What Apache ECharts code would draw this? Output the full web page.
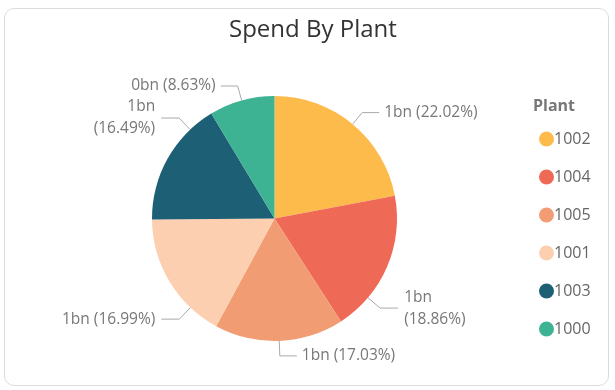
<!DOCTYPE html>
<html>
<head>
<meta charset="utf-8">
<script src="https://cdn.jsdelivr.net/npm/echarts@6/dist/echarts.min.js"></script>
<style>
html,body{margin:0;padding:0;background:#fff;}
#card{position:absolute;left:4px;top:8px;width:605px;height:378px;border:1px solid #dcdcdc;border-radius:10px;box-sizing:border-box;}
#chart{position:absolute;left:0;top:0;width:615px;height:390px;}
</style>
</head>
<body>
<div id="card"></div>
<div id="chart"></div>
<script>
var plants = ['1002', '1004', '1005', '1001', '1003', '1000'];
var spendBn = [1.101, 0.943, 0.8515, 0.8495, 0.8245, 0.4315];
var percents = ['22.02', '18.86', '17.03', '16.99', '16.49', '8.63'];
var colors = ['#FDBB4B', '#EF6957', '#F29C73', '#FDCFB1', '#1D5F74', '#3EB393'];

var FONT = '"Open Sans", "Noto Sans", sans-serif';
var chart = echarts.init(document.getElementById('chart'), null, {renderer: 'canvas'});

var data = plants.map(function (p, i) {
  return {name: p, value: spendBn[i], itemStyle: {color: colors[i]}};
});

// layout-only: pie geometry and custom leader-line angles for a few labels
var PIE_C = [274.5, 218.5], PIE_R = 122.5, LEN1 = 16, LEN2 = 18, GAP = 6;
var leaderAngle = {'1004': 130.3, '1001': 223.4, '1003': 316.5};

chart.setOption({
  animation: false,
  title: [
    {text: 'Spend By Plant', left: 224, top: 13,
     textStyle: {fontFamily: FONT, fontSize: 24, fontWeight: 'normal', color: '#333'}},
    {text: 'Plant', left: 528, top: 93,
     textStyle: {fontFamily: FONT, fontSize: 16, fontWeight: 'bold', color: '#777'}}
  ],
  legend: {
    orient: 'vertical', left: 534, top: 126,
    icon: 'circle', itemWidth: 15, itemHeight: 15, itemGap: 22,
    textStyle: {fontFamily: FONT, fontSize: 16, color: '#666', padding: [0, 0, 0, -5]},
    data: plants
  },
  series: [{
    type: 'pie',
    center: PIE_C,
    radius: PIE_R,
    startAngle: 90,
    clockwise: true,
    data: data,
    itemStyle: {borderColor: '#fff', borderWidth: 0},
    label: {
      show: true,
      fontFamily: FONT, fontSize: 15.5, color: '#777', lineHeight: 22,
      formatter: function (p) {
        var i = p.dataIndex;
        var v = Math.round(spendBn[i]) + 'bn';
        var pc = '(' + percents[i] + '%)';
        if (plants[i] === '1004' || plants[i] === '1003') return v + '\n' + pc;
        return v + ' ' + pc;
      }
    },
    labelLine: {show: true, length: 15, length2: 17, lineStyle: {color: '#aaa', width: 1}},
    labelLayout: function (params) {
      var name = plants[params.dataIndex];
      var a = leaderAngle[name];
      if (a == null) return {};
      var rad = a * Math.PI / 180, s = Math.sin(rad), c = -Math.cos(rad);
      var p0 = [PIE_C[0] + PIE_R * s, PIE_C[1] + PIE_R * c];
      var p1 = [PIE_C[0] + (PIE_R + LEN1) * s, PIE_C[1] + (PIE_R + LEN1) * c];
      var side = s > 0 ? 1 : -1;
      var p2 = [p1[0] + side * LEN2, p1[1]];
      return {x: p2[0] + side * GAP, y: p2[1], align: side > 0 ? 'left' : 'right', verticalAlign: 'middle',
              labelLinePoints: [p0, p1, p2]};
    }
  }]
});
</script>
</body>
</html>
